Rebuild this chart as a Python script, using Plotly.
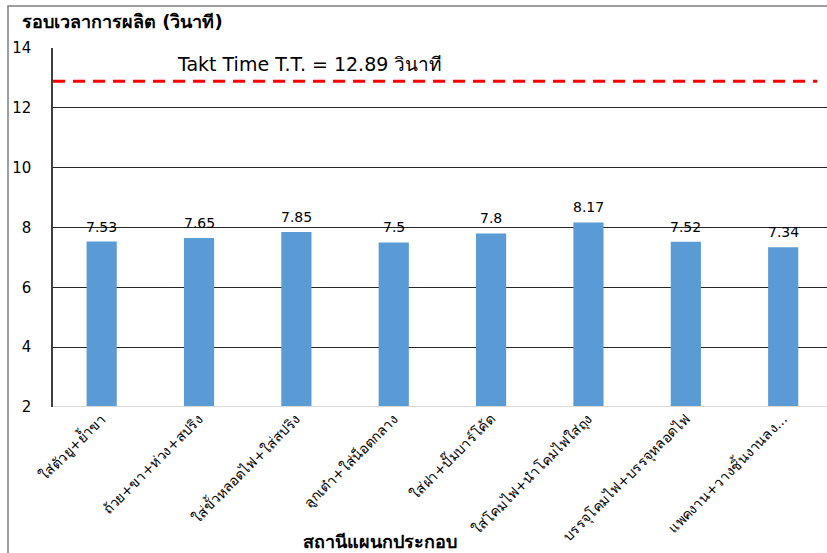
import plotly.graph_objects as go

# Assembly stations and their cycle times (seconds)
stations = [
    "ใส่ตัวยู+ย้ำขา",
    "ถ้วย+ขา+ห่วง+สปริง",
    "ใส่ขั้วหลอดไฟ+ใส่สปริง",
    "ลูกเต๋า+ใส่น็อตกลาง",
    "ใส่ฝา+ปั๊มบาร์โค้ด",
    "ใส่โคมไฟ+นำโคมไฟใส่ถุง",
    "บรรจุโคมไฟ+บรรจุหลอดไฟ",
    "แพคงาน+วางชิ้นงานลง...",
]
cycle_times = [7.53, 7.65, 7.85, 7.5, 7.8, 8.17, 7.52, 7.34]
bar_labels = ["7.53", "7.65", "7.85", "7.5", "7.8", "8.17", "7.52", "7.34"]
takt_time = 12.89
y_ticks = [2, 4, 6, 8, 10, 12, 14]

W, H = 827, 553
ML, MR, MT, MB = 53, 0, 48, 146

FONT = "Tahoma, 'DejaVu Sans', sans-serif"

fig = go.Figure()

fig.add_trace(go.Bar(
    x=list(range(len(stations))),
    y=cycle_times,
    base=0,
    width=0.31,
    marker=dict(color="#5b9bd5", line=dict(width=0)),
    showlegend=False,
))

# value labels sitting above each bar
for i, (v, lab) in enumerate(zip(cycle_times, bar_labels)):
    fig.add_annotation(
        x=i, y=v, xref="x", yref="y", text=lab,
        showarrow=False, xanchor="center", yanchor="bottom", yshift=5,
        font=dict(size=14, color="#000000", family=FONT),
    )

# Takt time reference line
fig.add_trace(go.Scatter(
    x=[-0.5, 7.35],
    y=[takt_time, takt_time],
    mode="lines",
    line=dict(color="#ff0000", width=3, dash="12px,8px"),
    showlegend=False,
    hoverinfo="skip",
))

pw = W - ML - MR
ph = H - MT - MB

def px_x(p):
    return (p - ML) / pw

def px_y(p):
    return 1 - (p - MT) / ph

fig.add_annotation(
    x=px_x(175), y=px_y(64), xref="paper", yref="paper",
    text=f"Takt Time T.T. = {takt_time} วินาที",
    showarrow=False, xanchor="left", yanchor="middle",
    font=dict(size=19, color="#000000", family=FONT),
)

# outer chart frame
fig.add_shape(type="rect", xref="paper", yref="paper",
              x0=px_x(8), x1=px_x(900), y0=px_y(600), y1=px_y(6),
              line=dict(color="#7f7f7f", width=1.5), fillcolor="rgba(0,0,0,0)",
              layer="below")

fig.add_annotation(
    x=px_x(20), y=px_y(21), xref="paper", yref="paper",
    text="<b>รอบเวลาการผลิต (วินาที)</b>", showarrow=False,
    xanchor="left", yanchor="middle",
    font=dict(size=18, color="#000000", family=FONT),
)
fig.add_annotation(
    x=px_x(380), y=px_y(541), xref="paper", yref="paper",
    text="<b>สถานีแผนกประกอบ</b>", showarrow=False,
    xanchor="center", yanchor="middle",
    font=dict(size=18, color="#000000", family=FONT),
)

fig.update_layout(
    width=W, height=H,
    margin=dict(l=ML, r=MR, t=MT, b=MB, autoexpand=False),
    paper_bgcolor="#ffffff",
    plot_bgcolor="#ffffff",
    font=dict(family=FONT, color="#000000"),
    xaxis=dict(
        range=[-0.5, 7.45],
        tickmode="array",
        tickvals=list(range(len(stations))),
        ticktext=stations,
        tickangle=-45,
        tickfont=dict(size=14, color="#000000", family=FONT),
        showgrid=False,
        zeroline=False,
        showline=False,
        ticks="",
        automargin=False,
    ),
    yaxis=dict(
        range=[2, 14],
        tickmode="array",
        tickvals=y_ticks,
        tickfont=dict(size=15, color="#000000", family=FONT),
        showgrid=True,
        gridcolor="#262626",
        gridwidth=1,
        zeroline=False,
        showline=True,
        linecolor="#404040",
        linewidth=1.5,
        ticks="",
        ticklabelstandoff=17,
        automargin=False,
    ),
)

# light baseline at the bottom of the value axis
fig.add_shape(type="line", xref="paper", yref="y",
              x0=0, x1=1, y0=2, y1=2,
              line=dict(color="#d9d9d9", width=2))

fig.write_html("out.html")
